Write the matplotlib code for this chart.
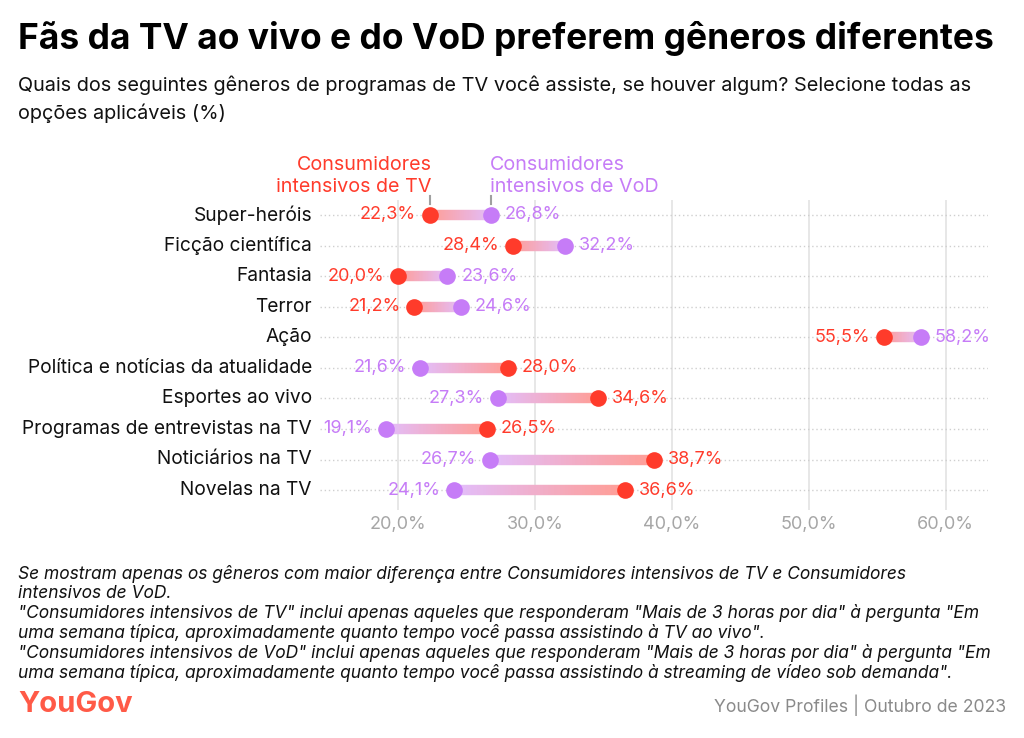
import numpy as np
import matplotlib
matplotlib.use("Agg")
import matplotlib.pyplot as plt
from matplotlib.collections import LineCollection
from matplotlib.colors import to_rgb

plt.rcParams['font.family'] = ['Inter', 'DejaVu Sans']

# dados
generos = ['Super-heróis', 'Ficção científica', 'Fantasia', 'Terror', 'Ação',
           'Política e notícias da atualidade', 'Esportes ao vivo',
           'Programas de entrevistas na TV', 'Noticiários na TV', 'Novelas na TV']
tv = [22.3, 28.4, 20.0, 21.2, 55.5, 28.0, 34.6, 26.5, 38.7, 36.6]
vod = [26.8, 32.2, 23.6, 24.6, 58.2, 21.6, 27.3, 19.1, 26.7, 24.1]
xticks = [20, 30, 40, 50, 60]

cor_tv = '#ff3b2b'
cor_vod = '#c67cf7'

W, H = 1024, 738
fig = plt.figure(figsize=(W / 100, H / 100), dpi=100)

# eixo (posição em pixels)
left, right, top, bottom = 320, 988, 200, 510
ax = fig.add_axes([left / W, 1 - bottom / H, (right - left) / W, (bottom - top) / H])
ax.set_xlim(14.3, 63.1)
ax.set_ylim(9.65, -0.49)
for s in ax.spines.values():
    s.set_visible(False)
ax.set_yticks([])
ax.set_xticks(xticks)
ax.set_xticklabels([f'{v:.1f}%'.replace('.', ',') for v in xticks], color='#a6a6a6', fontsize=13)
ax.tick_params(axis='x', length=0, pad=4)
for v in xticks:
    ax.axvline(v, color='#e3e3e3', lw=1.2, zorder=0)

def mistura(c, a):
    r = np.array(to_rgb(c))
    return tuple(r * a + (1 - a))

for i, (g, a, b) in enumerate(zip(generos, tv, vod)):
    ax.plot([14.3, 63.1], [i, i], color='#cfcfcf', lw=1, ls=(0, (1, 2)), zorder=0)
    # barra em gradiente
    n = 60
    xs = np.linspace(a, b, n + 1)
    segs = [[(xs[k], i), (xs[k + 1], i)] for k in range(n)]
    c1 = np.array(mistura(cor_tv, 0.5))
    c2 = np.array(mistura(cor_vod, 0.5))
    cols = [tuple(c1 + (c2 - c1) * k / (n - 1)) for k in range(n)]
    ax.add_collection(LineCollection(segs, colors=cols, linewidths=7.5, capstyle='butt', zorder=2))
    ax.plot(a, i, 'o', color=cor_tv, ms=12, mec='none', zorder=3)
    ax.plot(b, i, 'o', color=cor_vod, ms=12, mec='none', zorder=3)
    lo, hi = (a, b) if a < b else (b, a)
    clo, chi = (cor_tv, cor_vod) if a < b else (cor_vod, cor_tv)
    ax.annotate(f'{lo:.1f}%'.replace('.', ','), (lo, i), xytext=(-10, 0), textcoords='offset points',
                ha='right', va='center', color=clo, fontsize=13)
    ax.annotate(f'{hi:.1f}%'.replace('.', ','), (hi, i), xytext=(10, 0), textcoords='offset points',
                ha='left', va='center', color=chi, fontsize=13)
    fig.text(312 / W, 1 - (215 + i * 30.56) / H, g, ha='right', va='center', fontsize=13.8, color='#111111')

# legenda sobre a primeira linha
ax.annotate('Consumidores\nintensivos de TV', (tv[0], -0.49), xytext=(1.5, 3), textcoords='offset points',
            ha='right', va='bottom', color=cor_tv, fontsize=14.2, linespacing=1.25,
            annotation_clip=False)
ax.annotate('Consumidores\nintensivos de VoD', (vod[0], -0.49), xytext=(-1, 3), textcoords='offset points',
            ha='left', va='bottom', color=cor_vod, fontsize=14.2, linespacing=1.25,
            annotation_clip=False)
for v in (tv[0], vod[0]):
    ax.plot([v, v], [-0.36, -0.62], color='#a0a0a0', lw=1.5, clip_on=False, zorder=4)

# títulos
fig.text(18 / W, 1 - 38 / H, 'Fãs da TV ao vivo e do VoD preferem gêneros diferentes',
         fontsize=25.5, fontweight='bold', va='center', ha='left', color='black')
fig.text(18 / W, 1 - 85 / H, 'Quais dos seguintes gêneros de programas de TV você assiste, se houver algum? Selecione todas as',
         fontsize=14.3, va='center', color='#111111')
fig.text(18 / W, 1 - 113 / H, 'opções aplicáveis (%)', fontsize=14.3, va='center', color='#111111')

nota = ('Se mostram apenas os gêneros com maior diferença entre Consumidores intensivos de TV e Consumidores\n'
        'intensivos de VoD.\n'
        '"Consumidores intensivos de TV" inclui apenas aqueles que responderam "Mais de 3 horas por dia" à pergunta "Em\n'
        'uma semana típica, aproximadamente quanto tempo você passa assistindo à TV ao vivo".\n'
        '"Consumidores intensivos de VoD" inclui apenas aqueles que responderam "Mais de 3 horas por dia" à pergunta "Em\n'
        'uma semana típica, aproximadamente quanto tempo você passa assistindo à streaming de vídeo sob demanda".')
fig.text(18 / W, 1 - 565 / H, nota, fontsize=12.5, style='italic', va='top', ha='left',
         color='#111111', linespacing=1.14)

fig.text(18 / W, 1 - 705 / H, 'YouGov', fontsize=21, fontweight='bold', color='#ff5a47', va='center')
fig.text(1006 / W, 1 - 705 / H, 'YouGov Profiles | Outubro de 2023', fontsize=12.7, color='#8a8a8a',
         va='center', ha='right')

fig.savefig('out.png', dpi=100, facecolor='white')
